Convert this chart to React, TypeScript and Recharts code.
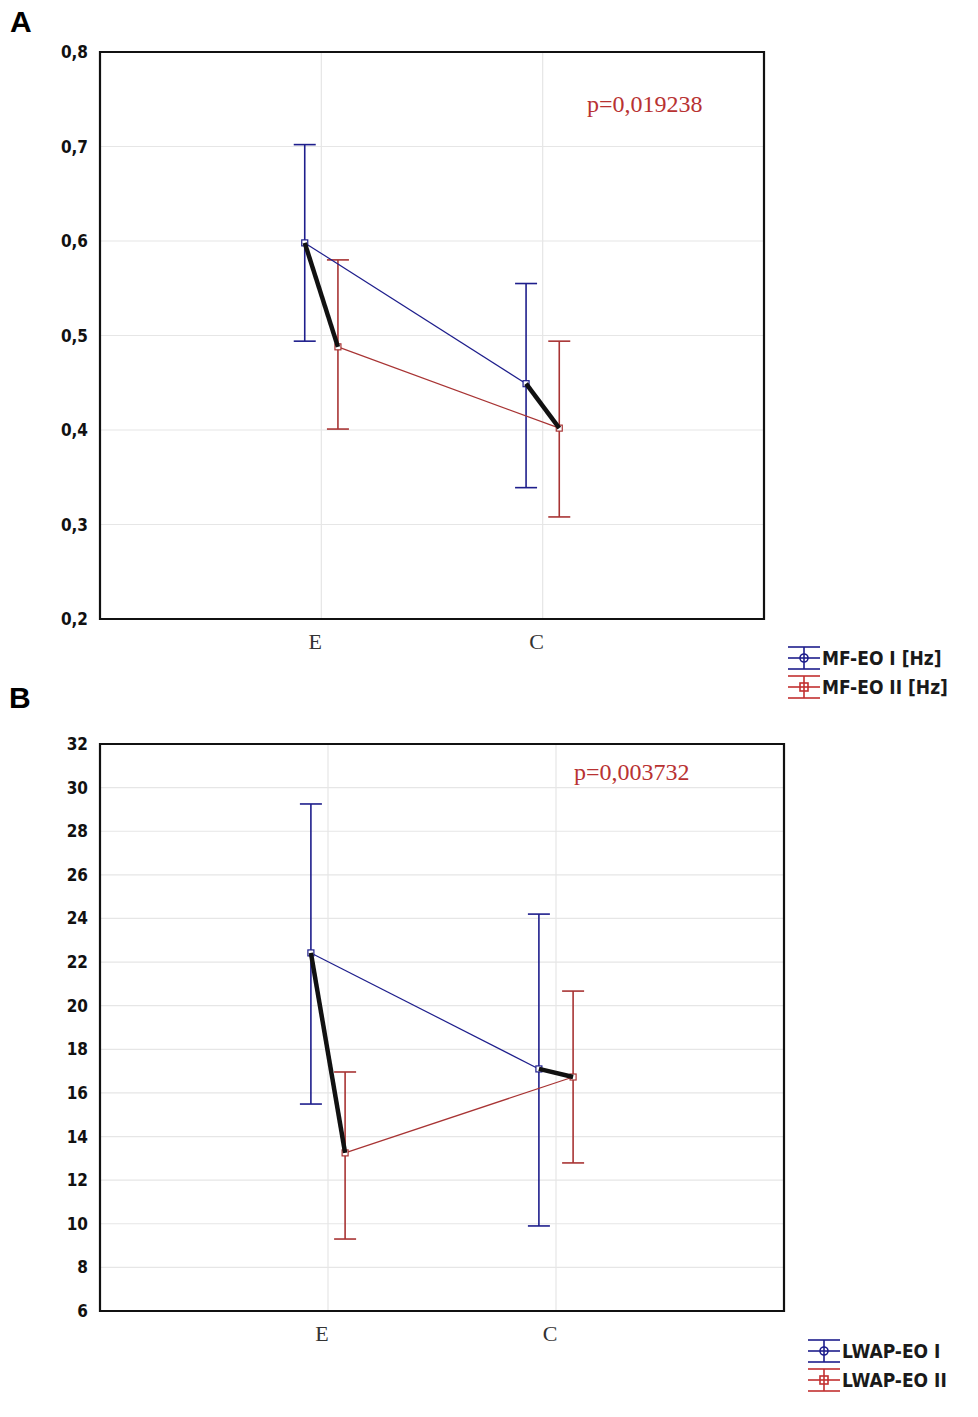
import React from "react";
import {
  CartesianGrid,
  ComposedChart,
  ErrorBar,
  Legend,
  ReferenceArea,
  Scatter,
  XAxis,
  YAxis,
} from "recharts";

// Two groups on the x axis, two measurement series per group (I and II).
const CATEGORIES = ["E", "C"];

// Panel A: MF-EO [Hz]
const A_TICKS = [0.2, 0.3, 0.4, 0.5, 0.6, 0.7, 0.8];
const A_I_MEAN = [0.598, 0.449];
const A_I_LOW = [0.494, 0.339];
const A_I_HIGH = [0.702, 0.555];
const A_II_MEAN = [0.488, 0.402];
const A_II_LOW = [0.401, 0.308];
const A_II_HIGH = [0.58, 0.494];
const A_LEGEND = ["MF-EO I [Hz]", "MF-EO II [Hz]"];
const A_P = "p=0,019238";

// Panel B: LWAP-EO
const B_TICKS = [6, 8, 10, 12, 14, 16, 18, 20, 22, 24, 26, 28, 30, 32];
const B_I_MEAN = [22.42, 17.1];
const B_I_LOW = [15.49, 9.9];
const B_I_HIGH = [29.25, 24.2];
const B_II_MEAN = [13.25, 16.73];
const B_II_LOW = [9.3, 12.79];
const B_II_HIGH = [16.96, 20.67];
const B_LEGEND = ["LWAP-EO I", "LWAP-EO II"];
const B_P = "p=0,003732";

const BLUE = "#1e1e8c";
const RED = "#a83434";
const GRID = "#e6e6e6";
const INK = "#111";
const OFFSET = 0.075; // horizontal dodge of the two series inside a group

const TICK_FONT = "'DejaVu Sans Condensed', 'DejaVu Sans', sans-serif";
const SERIF = "'Liberation Serif', 'DejaVu Serif', serif";

type Pt = { x: number; y: number; err: [number, number] };

const toPoints = (mean: number[], low: number[], high: number[], dx: number): Pt[] =>
  mean.map((m, i) => ({ x: i + 1 + dx, y: m, err: [m - low[i], high[i] - m] }));

const square = (color: string, fill: string) => (p: any) =>
  (
    <rect
      x={p.cx - 3}
      y={p.cy - 3}
      width={6}
      height={6}
      fill={fill}
      stroke={color}
      strokeWidth={1.2}
    />
  );

const noShape = () => <g />;

function LegendIcon({ color, round }: { color: string; round: boolean }) {
  return (
    <svg width={34} height={26} style={{ display: "block" }}>
      <line x1={1} y1={2} x2={33} y2={2} stroke={color} strokeWidth={1.6} />
      <line x1={1} y1={24} x2={33} y2={24} stroke={color} strokeWidth={1.6} />
      <line x1={17} y1={2} x2={17} y2={24} stroke={color} strokeWidth={1.6} />
      <line x1={1} y1={13} x2={33} y2={13} stroke={color} strokeWidth={1.6} />
      {round ? (
        <circle cx={17} cy={13} r={4} fill="none" stroke={color} strokeWidth={1.6} />
      ) : (
        <rect x={13} y={9} width={8} height={8} fill="none" stroke={color} strokeWidth={1.6} />
      )}
    </svg>
  );
}

function LegendBox({ labels }: { labels: string[] }) {
  const colors = [BLUE, "#c23030"];
  return (
    <div style={{ display: "flex", flexDirection: "column", gap: 3 }}>
      {labels.map((l, i) => (
        <div key={l} style={{ display: "flex", alignItems: "center", height: 26 }}>
          <LegendIcon color={colors[i]} round={i === 0} />
          <span
            style={{
              fontFamily: TICK_FONT,
              fontWeight: "bold",
              fontSize: 19,
              color: "#1a1a1a",
              marginLeft: 1,
              whiteSpace: "nowrap",
            }}
          >
            {l}
          </span>
        </div>
      ))}
    </div>
  );
}

type PanelProps = {
  height: number;
  plotTop: number;
  plotBottom: number;
  plotRight: number;
  ticks: number[];
  fmt: (v: number) => string;
  series: number[][];
  legend: string[];
  legendPos: { left: number; top: number };
};

function Panel(props: PanelProps) {
  const { height, plotTop, plotBottom, plotRight, ticks, fmt, series, legend, legendPos } = props;
  const [iMean, iLow, iHigh, iiMean, iiLow, iiHigh] = series;
  const one = toPoints(iMean, iLow, iHigh, -OFFSET);
  const two = toPoints(iiMean, iiLow, iiHigh, OFFSET);
  const yMin = ticks[0];
  const yMax = ticks[ticks.length - 1];
  const xAxisH = 40;

  return (
    <ComposedChart
      width={978}
      height={height}
      margin={{ top: plotTop, right: 978 - plotRight, left: 0, bottom: height - plotBottom - xAxisH }}
    >
      <CartesianGrid stroke={GRID} strokeWidth={1.2} />
      <XAxis
        dataKey="x"
        type="number"
        domain={[0, 3]}
        ticks={[1, 2]}
        tickFormatter={(v) => CATEGORIES[v - 1]}
        height={xAxisH}
        axisLine={false}
        tickLine={false}
        tickMargin={8}
        tick={{ fill: "#333", fontSize: 22, fontFamily: SERIF, dx: -6 }}
      />
      <YAxis
        dataKey="y"
        type="number"
        domain={[yMin, yMax]}
        ticks={ticks}
        tickFormatter={fmt}
        width={100}
        axisLine={false}
        tickLine={false}
        tickSize={4}
        tickMargin={8}
        tick={{ fill: "#111", fontSize: 17, fontWeight: "bold", fontFamily: TICK_FONT }}
      />
      <ReferenceArea
        x1={0}
        x2={3}
        y1={yMin}
        y2={yMax}
        fill="none"
        stroke={INK}
        strokeWidth={2.2}
      />
      <Scatter
        data={one}
        line={{ stroke: BLUE, strokeWidth: 1.2 }}
        shape={square(BLUE, "#fff")}
        isAnimationActive={false}
      >
        <ErrorBar dataKey="err" direction="y" width={11} stroke={BLUE} strokeWidth={1.6} />
      </Scatter>
      <Scatter
        data={two}
        line={{ stroke: RED, strokeWidth: 1.2 }}
        shape={square(RED, "#fff")}
        isAnimationActive={false}
      >
        <ErrorBar dataKey="err" direction="y" width={11} stroke={RED} strokeWidth={1.6} />
      </Scatter>
      {CATEGORIES.map((c, i) => (
        <Scatter
          key={c}
          data={[one[i], two[i]]}
          line={{ stroke: INK, strokeWidth: 4.5 }}
          shape={noShape}
          isAnimationActive={false}
        />
      ))}
      <Legend
        layout="vertical"
        align="center"
        verticalAlign="middle"
        content={() => <LegendBox labels={legend} />}
        wrapperStyle={{ left: legendPos.left, top: legendPos.top, width: 190 }}
      />
    </ComposedChart>
  );
}

const overlay = (extra: React.CSSProperties): React.CSSProperties => ({
  position: "absolute",
  whiteSpace: "nowrap",
  lineHeight: 1,
  ...extra,
});

export default function App() {
  return (
    <div
      style={{
        position: "absolute",
        left: 0,
        top: 0,
        width: 978,
        height: 1417,
        background: "#fff",
        overflow: "hidden",
      }}
    >
      <div style={{ position: "absolute", left: 0, top: 0 }}>
        <Panel
          height={700}
          plotTop={52}
          plotBottom={619}
          plotRight={764}
          ticks={A_TICKS}
          fmt={(v) => v.toFixed(1).replace(".", ",")}
          series={[A_I_MEAN, A_I_LOW, A_I_HIGH, A_II_MEAN, A_II_LOW, A_II_HIGH]}
          legend={A_LEGEND}
          legendPos={{ left: 787, top: 645 }}
        />
      </div>
      <div style={{ position: "absolute", left: 0, top: 700 }}>
        <Panel
          height={717}
          plotTop={44}
          plotBottom={611}
          plotRight={784}
          ticks={B_TICKS}
          fmt={(v) => String(v)}
          series={[B_I_MEAN, B_I_LOW, B_I_HIGH, B_II_MEAN, B_II_LOW, B_II_HIGH]}
          legend={B_LEGEND}
          legendPos={{ left: 807, top: 638 }}
        />
      </div>
      <div style={overlay({ left: 10, top: 7, fontFamily: "'Liberation Sans', Arial, sans-serif", fontWeight: "bold", fontSize: 30 })}>
        A
      </div>
      <div style={overlay({ left: 9, top: 683, fontFamily: "'Liberation Sans', Arial, sans-serif", fontWeight: "bold", fontSize: 30 })}>
        B
      </div>
      <div style={overlay({ left: 587, top: 92, fontFamily: SERIF, fontSize: 24, color: "#b83232" })}>
        {A_P}
      </div>
      <div style={overlay({ left: 574, top: 760, fontFamily: SERIF, fontSize: 24, color: "#b83232" })}>
        {B_P}
      </div>
    </div>
  );
}
